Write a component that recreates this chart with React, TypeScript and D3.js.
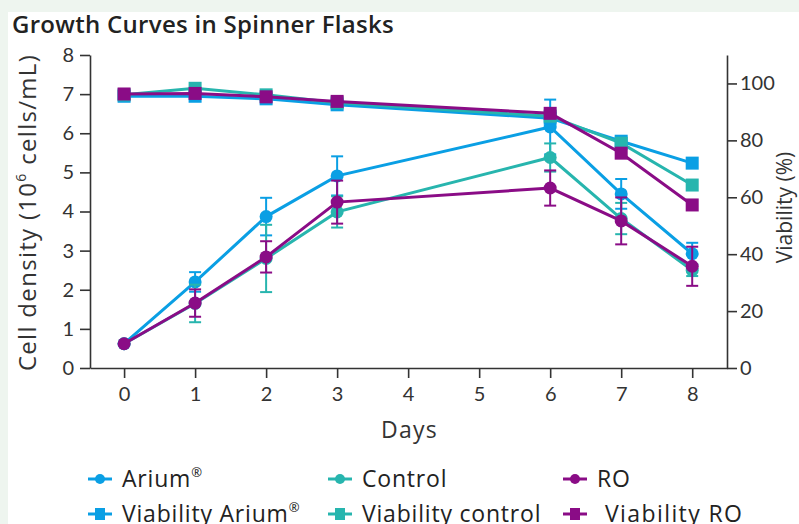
import React, { useEffect, useRef } from "react";
import * as d3 from "d3";

// Day of sampling
const days = [0, 1, 2, 3, 6, 7, 8];

// Cell density (10^6 cells/mL) with SD
const ariumDensity = [0.62, 2.2, 3.87, 4.91, 6.16, 4.45, 2.92];
const ariumDensitySd = [0, 0.25, 0.48, 0.5, 0.7, 0.38, 0.28];
const controlDensity = [0.62, 1.65, 2.8, 3.99, 5.38, 3.82, 2.5];
const controlDensitySd = [0, 0.48, 0.86, 0.4, 0.36, 0.4, 0.15];
const roDensity = [0.62, 1.66, 2.84, 4.24, 4.6, 3.76, 2.6];
const roDensitySd = [0, 0.35, 0.4, 0.55, 0.45, 0.6, 0.5];

// Viability (%)
const ariumViability = [95.5, 95.5, 94.6, 92.5, 87.8, 79.7, 72.0];
const controlViability = [96.0, 98.3, 96.0, 93.2, 88.5, 79.0, 64.3];
const roViability = [96.3, 96.5, 95.3, 93.7, 89.5, 75.5, 57.3];

const leftTicks = [0, 1, 2, 3, 4, 5, 6, 7, 8];
const rightTicks = [0, 20, 40, 60, 80, 100];
const dayTicks = [0, 1, 2, 3, 4, 5, 6, 7, 8];

const BLUE = "#0a9fe4";
const TEAL = "#27b5ae";
const PURPLE = "#8a0c86";
const FONT = "'Open Sans', Lato, sans-serif";
const TICK_FONT = "Lato, 'Open Sans', sans-serif";

interface Point {
  day: number;
  value: number;
  sd: number;
}

const toPoints = (values: number[], sds?: number[]): Point[] =>
  values.map((v, i) => ({ day: days[i], value: v, sd: sds ? sds[i] : 0 }));

export default function App() {
  const svgRef = useRef<SVGSVGElement | null>(null);

  useEffect(() => {
    const width = 799;
    const height = 524;
    const margin = { top: 55, right: 72, bottom: 156, left: 90 };
    const plotBottom = height - margin.bottom;
    const plotRight = width - margin.right;

    const svg = d3.select(svgRef.current);
    svg.selectAll("*").remove();

    // page background + white card
    svg.append("rect").attr("width", width).attr("height", height).attr("fill", "#eef5ef");
    svg.append("rect").attr("x", 8).attr("y", 12).attr("width", width - 8).attr("height", height - 12).attr("fill", "#ffffff");

    const x = d3.scaleLinear().domain([-0.48, 8.49]).range([margin.left, plotRight]);
    const yLeft = d3.scaleLinear().domain([0, 8]).range([plotBottom, margin.top]);
    const yRight = d3.scaleLinear().domain([0, 110]).range([plotBottom, margin.top]);

    // title
    svg
      .append("text")
      .attr("x", 12)
      .attr("y", 33)
      .attr("font-family", FONT)
      .attr("font-size", 24)
      .attr("font-weight", 600)
      .attr("letter-spacing", 0.3)
      .attr("fill", "#222")
      .text("Growth Curves in Spinner Flasks");

    // axes
    const styleAxis = (g: d3.Selection<SVGGElement, unknown, null, undefined>) => {
      g.selectAll(".domain, .tick line").attr("stroke", "#333").attr("stroke-width", 1.6);
      g.selectAll(".tick text").attr("fill", "#333").attr("font-family", TICK_FONT).attr("font-size", 20);
    };

    svg
      .append("g")
      .attr("transform", `translate(${margin.left},0)`)
      .call(d3.axisLeft(yLeft).tickValues(leftTicks).tickSize(10).tickSizeOuter(0).tickPadding(6).tickFormat(d3.format("d")))
      .call(styleAxis);

    svg
      .append("g")
      .attr("transform", `translate(${plotRight},0)`)
      .call(d3.axisRight(yRight).tickValues(rightTicks).tickSize(10).tickSizeOuter(0).tickPadding(3).tickFormat(d3.format("d")))
      .call(styleAxis);

    svg
      .append("g")
      .attr("transform", `translate(0,${plotBottom})`)
      .call(d3.axisBottom(x).tickValues(dayTicks).tickSize(10).tickSizeOuter(0).tickPadding(9).tickFormat(d3.format("d")))
      .call(styleAxis);

    // axis titles
    svg
      .append("text")
      .attr("x", (margin.left + plotRight) / 2 + 1)
      .attr("y", 438)
      .attr("text-anchor", "middle")
      .attr("font-family", FONT)
      .attr("font-size", 23)
      .attr("letter-spacing", 1.2)
      .attr("fill", "#333")
      .text("Days");

    const leftLabel = svg
      .append("text")
      .attr("transform", `translate(36,${(margin.top + plotBottom) / 2 + 1}) rotate(-90)`)
      .attr("text-anchor", "middle")
      .attr("font-family", FONT)
      .attr("font-size", 24)
      .attr("letter-spacing", 1.3)
      .attr("fill", "#333");
    leftLabel.append("tspan").text("Cell density (10");
    leftLabel.append("tspan").attr("font-size", 14).attr("dy", -10).text("6");
    leftLabel.append("tspan").attr("dy", 10).text(" cells/mL)");

    svg
      .append("text")
      .attr("transform", `translate(792,${(margin.top + plotBottom) / 2 - 4}) rotate(-90)`)
      .attr("text-anchor", "middle")
      .attr("font-family", FONT)
      .attr("font-size", 21)
      .attr("fill", "#333")
      .text("Viability (%)");

    const line = (yScale: d3.ScaleLinear<number, number>) =>
      d3
        .line<Point>()
        .x((d) => x(d.day))
        .y((d) => yScale(d.value));

    const drawSeries = (
      pts: Point[],
      yScale: d3.ScaleLinear<number, number>,
      color: string,
      shape: "circle" | "square"
    ) => {
      const g = svg.append("g");
      g.append("path")
        .datum(pts)
        .attr("fill", "none")
        .attr("stroke", color)
        .attr("stroke-width", 3)
        .attr("d", line(yScale));

      // error bars
      const errs = g.selectAll(".err").data(pts.filter((p) => p.sd > 0)).enter().append("g");
      errs
        .append("line")
        .attr("x1", (d) => x(d.day))
        .attr("x2", (d) => x(d.day))
        .attr("y1", (d) => yScale(d.value - d.sd))
        .attr("y2", (d) => yScale(d.value + d.sd))
        .attr("stroke", color)
        .attr("stroke-width", 2);
      [-1, 1].forEach((s) => {
        errs
          .append("line")
          .attr("x1", (d) => x(d.day) - 6)
          .attr("x2", (d) => x(d.day) + 6)
          .attr("y1", (d) => yScale(d.value + s * d.sd))
          .attr("y2", (d) => yScale(d.value + s * d.sd))
          .attr("stroke", color)
          .attr("stroke-width", 2);
      });

      if (shape === "circle") {
        g.selectAll(".pt")
          .data(pts)
          .enter()
          .append("circle")
          .attr("cx", (d) => x(d.day))
          .attr("cy", (d) => yScale(d.value))
          .attr("r", 6.5)
          .attr("fill", color);
      } else {
        g.selectAll(".pt")
          .data(pts)
          .enter()
          .append("rect")
          .attr("x", (d) => x(d.day) - 6.5)
          .attr("y", (d) => yScale(d.value) - 6.5)
          .attr("width", 13)
          .attr("height", 13)
          .attr("fill", color);
      }
    };

    drawSeries(toPoints(ariumDensity, ariumDensitySd), yLeft, BLUE, "circle");
    drawSeries(toPoints(controlDensity, controlDensitySd), yLeft, TEAL, "circle");
    drawSeries(toPoints(roDensity, roDensitySd), yLeft, PURPLE, "circle");
    drawSeries(toPoints(ariumViability), yRight, BLUE, "square");
    drawSeries(toPoints(controlViability), yRight, TEAL, "square");
    drawSeries(toPoints(roViability), yRight, PURPLE, "square");

    // legend
    const legendItems = [
      { label: "Arium", reg: true, color: BLUE, shape: "circle", col: 0, row: 0 },
      { label: "Control", reg: false, color: TEAL, shape: "circle", col: 1, row: 0 },
      { label: "RO", reg: false, color: PURPLE, shape: "circle", col: 2, row: 0 },
      { label: "Viability Arium", reg: true, color: BLUE, shape: "square", col: 0, row: 1 },
      { label: "Viability control", reg: false, color: TEAL, shape: "square", col: 1, row: 1 },
      { label: "Viability RO", reg: false, color: PURPLE, shape: "square", col: 2, row: 1 },
    ];
    const colX = [88, 328, 563];
    const rowY = [479, 514];
    legendItems.forEach((it) => {
      const lx = colX[it.col];
      const ly = rowY[it.row];
      const g = svg.append("g");
      g.append("line")
        .attr("x1", lx)
        .attr("x2", lx + 24)
        .attr("y1", ly)
        .attr("y2", ly)
        .attr("stroke", it.color)
        .attr("stroke-width", 3);
      if (it.shape === "circle") {
        g.append("circle").attr("cx", lx + 12).attr("cy", ly).attr("r", 5).attr("fill", it.color);
      } else {
        g.append("rect").attr("x", lx + 7).attr("y", ly - 6).attr("width", 10).attr("height", 12).attr("fill", it.color);
      }
      const t = g
        .append("text")
        .attr("x", lx + 34 + (it.col === 2 && it.row === 1 ? 8 : 0))
        .attr("y", ly + 8)
        .attr("font-family", FONT)
        .attr("font-size", 23)
        .attr("letter-spacing", it.col === 2 && it.row === 1 ? 1.4 : 0.8)
        .attr("fill", "#222")
        .text(it.label);
      if (it.reg) {
        t.append("tspan").attr("font-size", 13).attr("dy", -10).attr("letter-spacing", 0).text("®");
      }
    });
  }, []);

  return (
    <svg
      ref={svgRef}
      width={799}
      height={524}
      style={{ position: "fixed", left: 0, top: 0, display: "block" }}
    />
  );
}
